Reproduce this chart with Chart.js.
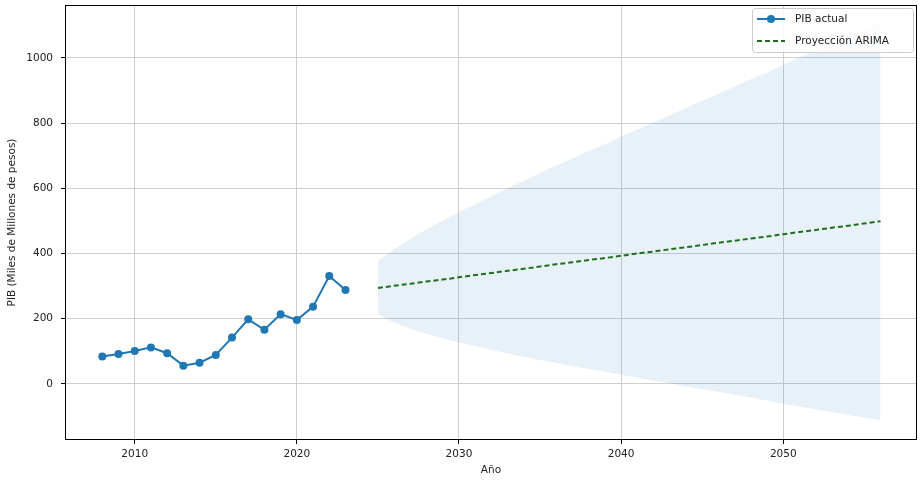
<!DOCTYPE html>
<html>
<head>
<meta charset="utf-8">
<script src="https://cdn.jsdelivr.net/npm/chart.js@4.4.0/dist/chart.umd.min.js"></script>
<style>
  html, body { margin: 0; padding: 0; background: #fff; }
  #wrap { width: 921px; height: 485px; }
</style>
</head>
<body>
<div id="wrap"><canvas id="pibChart" width="921" height="485"></canvas></div>
<script>
// historic GDP
var years = [2008, 2009, 2010, 2011, 2012, 2013, 2014, 2015, 2016, 2017, 2018, 2019, 2020, 2021, 2022, 2023];
var pib = [84, 92, 101, 112, 94, 56, 65, 89, 142, 198, 166, 214, 196, 237, 331, 288];

// ARIMA projection + confidence band
var forecastYears = [2025, 2026, 2027, 2028, 2029, 2030, 2031, 2032, 2033, 2034, 2035, 2036, 2037, 2038, 2039, 2040,
                     2041, 2042, 2043, 2044, 2045, 2046, 2047, 2048, 2049, 2050, 2051, 2052, 2053, 2054, 2055, 2056];
var forecast = [294, 301, 307, 314, 320, 327, 334, 340, 347, 353, 360, 367, 373, 380, 386, 393,
                400, 406, 413, 419, 426, 433, 439, 446, 452, 459, 466, 472, 479, 485, 492, 499];
var lowerCI = [212, 188, 169, 154, 139, 127, 116, 104, 94, 83, 73, 64, 54, 46, 37, 28,
               19, 10, 2, -8, -16, -24, -33, -42, -51, -61, -69, -78, -86, -95, -103, -110];
var upperCI = [376, 414, 445, 474, 501, 527, 552, 576, 600, 623, 647, 670, 692, 714, 735, 758,
               781, 802, 824, 846, 868, 890, 911, 934, 955, 979, 1001, 1022, 1044, 1065, 1087, 1108];

var xTicks = [2010, 2020, 2030, 2040, 2050];
var yTicks = [0, 200, 400, 600, 800, 1000];

function toPoints(xs, ys) {
    var pts = [];
    for (var i = 0; i < xs.length; i++) {
        pts.push({x: xs[i], y: ys[i]});
    }
    return pts;
}

var FONT = "'DejaVu Sans', sans-serif";
var BLUE = '#1f77b4';
var GREEN = '#1f6e1f';

// matplotlib style frame around the plot area
var framePlugin = {
    id: 'frame',
    afterDatasetsDraw: function(chart) {
        var a = chart.chartArea, ctx = chart.ctx;
        ctx.save();
        ctx.strokeStyle = '#000';
        ctx.lineWidth = 1;
        ctx.strokeRect(a.left + 0.5, a.top + 0.5, a.right - a.left - 1, a.bottom - a.top - 1);
        ctx.restore();
    }
};

// legend box, upper right
var legendPlugin = {
    id: 'mplLegend',
    afterDraw: function(chart) {
        var ctx = chart.ctx;
        var bx = 752, by = 8, bw = 161, bh = 44;
        ctx.save();
        ctx.fillStyle = 'rgba(255,255,255,0.8)';
        ctx.strokeStyle = '#cccccc';
        ctx.lineWidth = 1;
        ctx.beginPath();
        ctx.roundRect(bx + 0.5, by + 0.5, bw, bh, 3);
        ctx.fill();
        ctx.stroke();

        // PIB actual
        ctx.strokeStyle = BLUE;
        ctx.lineWidth = 2;
        ctx.beginPath();
        ctx.moveTo(757, 19);
        ctx.lineTo(785, 19);
        ctx.stroke();
        ctx.fillStyle = BLUE;
        ctx.beginPath();
        ctx.arc(771, 19, 4, 0, Math.PI * 2);
        ctx.fill();

        // Proyección ARIMA
        ctx.strokeStyle = GREEN;
        ctx.setLineDash([5, 3]);
        ctx.beginPath();
        ctx.moveTo(757, 41);
        ctx.lineTo(785, 41);
        ctx.stroke();
        ctx.setLineDash([]);

        ctx.fillStyle = '#222';
        ctx.font = '10.5px ' + FONT;
        ctx.textBaseline = 'middle';
        ctx.textAlign = 'left';
        ctx.fillText('PIB actual', 795, 19);
        ctx.fillText('Proyección ARIMA', 795, 41);
        ctx.restore();
    }
};

var ctx = document.getElementById('pibChart');
var chart = new Chart(ctx, {
    type: 'line',
    data: {
        datasets: [
            {
                label: 'lower',
                data: toPoints(forecastYears, lowerCI),
                borderWidth: 0,
                pointRadius: 0,
                fill: false,
                order: 4
            },
            {
                label: 'upper',
                data: toPoints(forecastYears, upperCI),
                borderWidth: 0,
                pointRadius: 0,
                backgroundColor: 'rgba(31,119,180,0.1)',
                fill: '-1',
                order: 3
            },
            {
                label: 'PIB actual',
                data: toPoints(years, pib),
                borderColor: BLUE,
                backgroundColor: BLUE,
                borderWidth: 2,
                pointRadius: 4,
                pointBorderWidth: 0,
                tension: 0,
                order: 1
            },
            {
                label: 'Proyección ARIMA',
                data: toPoints(forecastYears, forecast),
                borderColor: GREEN,
                borderWidth: 2,
                borderDash: [5, 3],
                pointRadius: 0,
                tension: 0,
                order: 2
            }
        ]
    },
    options: {
        responsive: false,
        animation: false,
        events: [],
        layout: { padding: { top: 5, right: 3, left: 0, bottom: 0 } },
        plugins: {
            legend: { display: false },
            tooltip: { enabled: false }
        },
        scales: {
            x: {
                type: 'linear',
                min: 2005.7,
                max: 2058.25,
                afterBuildTicks: function(scale) {
                    scale.ticks = xTicks.map(function(v) { return {value: v}; });
                },
                afterFit: function(scale) {
                    scale.height = 45;
                    scale.paddingLeft = 0;
                    scale.paddingRight = 0;
                },
                grid: { color: '#cfcfcf', tickColor: '#000', tickLength: 4, lineWidth: 1 },
                border: { display: false },
                ticks: {
                    color: '#222',
                    font: { family: FONT, size: 10.5 },
                    padding: 4,
                    maxRotation: 0,
                    callback: function(v) { return String(v); }
                },
                title: {
                    display: true,
                    text: 'Año',
                    color: '#222',
                    font: { family: FONT, size: 10.5 },
                    padding: { top: 0, bottom: 8 }
                }
            },
            y: {
                min: -172,
                max: 1162,
                afterBuildTicks: function(scale) {
                    scale.ticks = yTicks.map(function(v) { return {value: v}; });
                },
                afterFit: function(scale) {
                    scale.width = 65;
                    scale.paddingTop = 0;
                    scale.paddingBottom = 0;
                },
                grid: { color: '#cfcfcf', tickColor: '#000', tickLength: 4, lineWidth: 1 },
                border: { display: false },
                ticks: {
                    color: '#222',
                    font: { family: FONT, size: 10.5 },
                    padding: 8,
                    callback: function(v) { return String(v); }
                },
                title: {
                    display: true,
                    text: 'PIB (Miles de Millones de pesos)',
                    color: '#222',
                    font: { family: FONT, size: 10.5 },
                    padding: { top: 6, bottom: 0 }
                }
            }
        }
    },
    plugins: [framePlugin, legendPlugin]
});
</script>
</body>
</html>
